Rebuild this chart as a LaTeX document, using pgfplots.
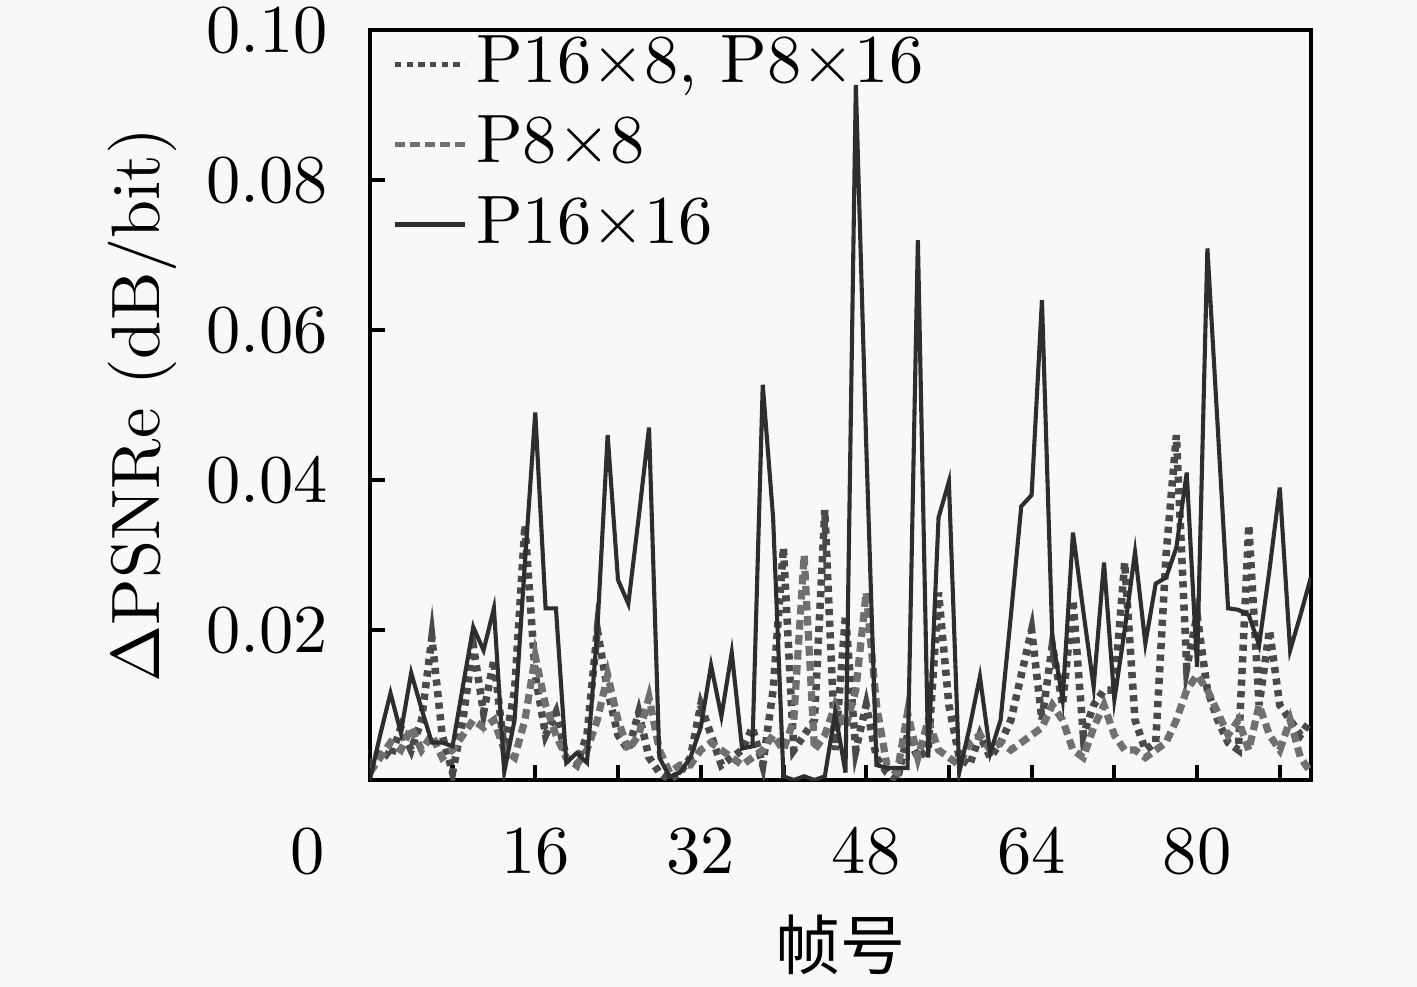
\documentclass[border=0pt]{standalone}
\usepackage{fontspec}
\usepackage{pgfplots}
\usepackage{pgfplotstable}
\pgfplotsset{compat=1.18}
\newfontfamily\cjk{Noto Sans CJK SC}
\definecolor{bg}{HTML}{F8F8F8}
\definecolor{csolid}{HTML}{2E2E2E}
\definecolor{cdot}{HTML}{4A4A4A}
\definecolor{cdash}{HTML}{707070}
\pgfplotsset{shortlegend/.style={legend image code/.code={\draw[##1, line width=0.7pt] (0pt,0pt) -- (10.2pt,0pt);}}}

\pgfplotstableread{
x y
0 0.000
1 0.006
2 0.0116
3 0.0063
4 0.0143
5 0.0095
6 0.0050
7 0.0050
8 0.0045
9 0.0125
10 0.0204
11 0.0173
12 0.0229
13 0.0011
14 0.0080
15 0.0290
16 0.0490
17 0.0229
18 0.0229
19 0.0023
20 0.0036
21 0.0023
22 0.0200
23 0.0460
24 0.0267
25 0.0235
26 0.0350
27 0.0470
28 0.0030
29 0.0004
30 0.0010
31 0.0030
32 0.0070
33 0.0153
34 0.0085
35 0.0170
36 0.0042
37 0.0045
38 0.0527
39 0.0350
40 0.0005
41 0.0000
42 0.0005
43 0.0000
44 0.0005
45 0.0090
46 0.0010
47 0.0927
48 0.0450
49 0.0020
50 0.0016
51 0.0016
52 0.0016
53 0.0720
54 0.0030
55 0.0350
56 0.0398
57 0.0010
58 0.0070
59 0.0138
60 0.0036
61 0.0080
62 0.0220
63 0.0365
64 0.0380
65 0.0640
66 0.0190
67 0.0107
68 0.0330
69 0.0225
70 0.0124
71 0.0290
72 0.0107
73 0.0200
74 0.0304
75 0.0182
76 0.0262
77 0.0270
78 0.0310
79 0.0410
80 0.0151
81 0.0709
82 0.0470
83 0.0229
84 0.0227
85 0.0220
86 0.0180
87 0.0280
88 0.0390
89 0.0173
90 0.0220
91 0.0270
}\solid

\pgfplotstableread{
x y
0 0.002
1 0.004
2 0.003
3 0.007
4 0.004
5 0.008
6 0.019
7 0.006
8 0.001
9 0.008
10 0.018
11 0.009
12 0.016
13 0.004
14 0.012
15 0.034
16 0.014
17 0.006
18 0.009
19 0.003
20 0.002
21 0.006
22 0.020
23 0.012
24 0.006
25 0.004
26 0.009
27 0.003
28 0.001
29 0.000
30 0.001
31 0.003
32 0.010
33 0.006
34 0.002
35 0.003
36 0.004
37 0.007
38 0.002
39 0.012
40 0.031
41 0.004
42 0.006
43 0.008
44 0.036
45 0.004
46 0.022
47 0.004
48 0.010
49 0.003
50 0.001
51 0.000
52 0.006
53 0.003
54 0.004
55 0.025
56 0.010
57 0.003
58 0.002
59 0.006
60 0.003
61 0.005
62 0.008
63 0.014
64 0.020
65 0.008
66 0.018
67 0.010
68 0.024
69 0.006
70 0.010
71 0.012
72 0.012
73 0.029
74 0.008
75 0.004
76 0.005
77 0.030
78 0.046
79 0.015
80 0.022
81 0.012
82 0.008
83 0.005
84 0.004
85 0.034
86 0.010
87 0.020
88 0.010
89 0.008
90 0.006
91 0.008
}\dotted

\pgfplotstableread{
x y
0 0.001
1 0.003
2 0.005
3 0.004
4 0.007
5 0.004
6 0.006
7 0.003
8 0.004
9 0.006
10 0.008
11 0.007
12 0.008
13 0.004
14 0.003
15 0.008
16 0.0165
17 0.010
18 0.006
19 0.003
20 0.002
21 0.004
22 0.008
23 0.014
24 0.008
25 0.004
26 0.006
27 0.011
28 0.004
29 0.001
30 0.002
31 0.002
32 0.004
33 0.005
34 0.004
35 0.003
36 0.002
37 0.003
38 0.004
39 0.006
40 0.004
41 0.008
42 0.030
43 0.004
44 0.006
45 0.010
46 0.007
47 0.012
48 0.025
49 0.010
50 0.002
51 0.001
52 0.009
53 0.003
54 0.008
55 0.004
56 0.003
57 0.002
58 0.005
59 0.006
60 0.004
61 0.005
62 0.004
63 0.005
64 0.006
65 0.007
66 0.010
67 0.008
68 0.004
69 0.003
70 0.007
71 0.010
72 0.006
73 0.004
74 0.004
75 0.003
76 0.004
77 0.005
78 0.008
79 0.012
80 0.014
81 0.012
82 0.009
83 0.006
84 0.008
85 0.004
86 0.010
87 0.006
88 0.004
89 0.008
90 0.003
91 0.001
}\dashed

\begin{document}
\begin{tikzpicture}
\path[use as bounding box] (-54.0pt,-30.2pt) rectangle (152.9pt,113.9pt);
\fill[bg] (-54.0pt,-30.2pt) rectangle (152.9pt,113.9pt);
\begin{axis}[
  name=ax,
  at={(0pt,0pt)}, anchor=south west,
  scale only axis, width=137.4pt, height=109.5pt,
  xmin=0, xmax=91, ymin=0, ymax=0.1,
  axis line style={line width=0.6pt},
  tick align=inside, xtick pos=bottom, ytick pos=left,
  major tick length=2.2pt, minor tick length=2.2pt,
  tick style={line width=0.6pt, black},
  xtick={16,32,48,64,80},
  minor xtick={8,24,40,56,72,88},
  ytick={0.02,0.04,0.06,0.08,0.10},
  yticklabels={0.02,0.04,0.06,0.08,0.10},
  scaled y ticks=false,
  xticklabel style={yshift=-3.6pt},
  yticklabel style={xshift=-2.6pt},
  xlabel={\cjk 帧号},
  xlabel style={at={(axis description cs:0.5,-0.22)}, anchor=center, font=\fontsize{9.5}{11}\selectfont},
  ylabel={$\Delta$PSNRe (dB/bit)},
  ylabel style={at={(axis description cs:-0.242,0.5)}, anchor=center},
  legend style={draw=none, fill=none, at={(axis description cs:0,1)}, anchor=north west,
    xshift=0.15pt, yshift=3.4pt, row sep=-0.6pt,
    nodes={inner xsep=1.3pt, inner ysep=2pt}},
  legend cell align=left,
  shortlegend,
]
\addplot[cdot, line width=1.1pt, dash pattern=on 0.9pt off 0.8pt] table[x=x,y=y] {\dotted};
\addlegendentry{P16$\times$8, P8$\times$16}
\addplot[cdash, line width=1.05pt, dash pattern=on 1.4pt off 0.8pt] table[x=x,y=y] {\dashed};
\addlegendentry{P8$\times$8}
\addplot[csolid, line width=0.6pt] table[x=x,y=y] {\solid};
\addlegendentry{P16$\times$16}
\end{axis}
\node[anchor=north] at ([xshift=-9.05pt,yshift=-3.6pt]ax.south west) {$0$};
\end{tikzpicture}
\end{document}
